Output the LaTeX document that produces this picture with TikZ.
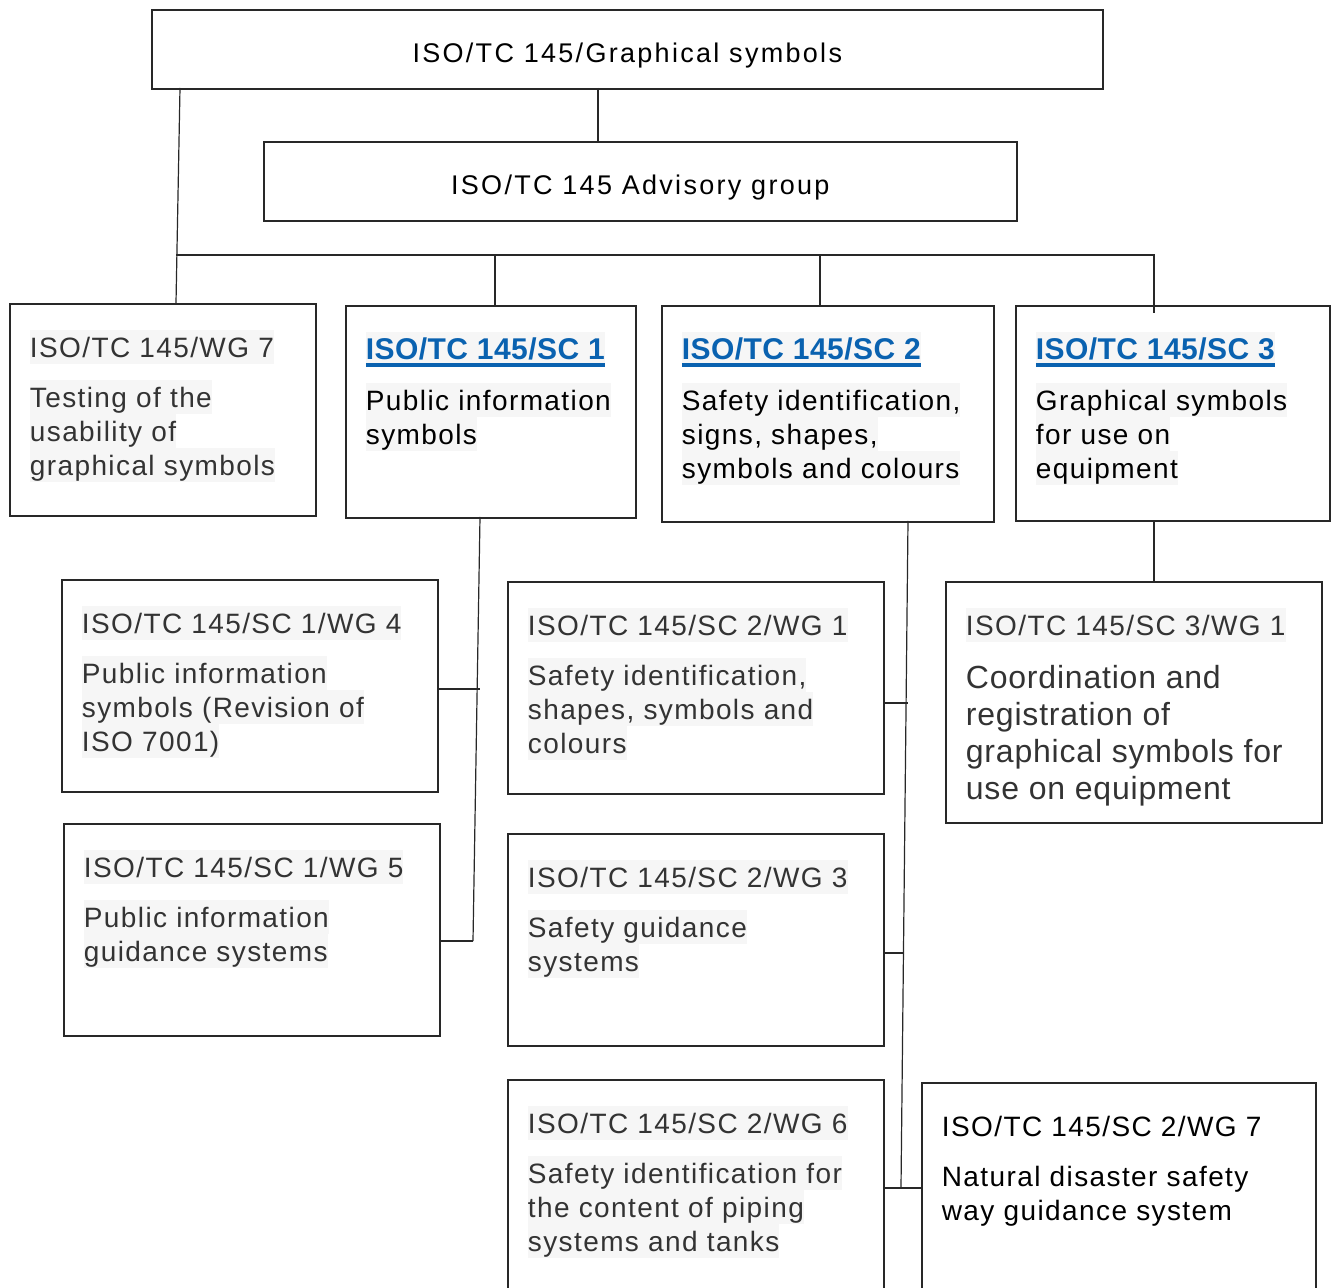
\documentclass[tikz,border=0pt]{standalone}
\usepackage{fontspec}
\setmainfont{Liberation Sans}
\newfontfamily\topfont[LetterSpace=8.5]{Liberation Sans}
\newfontfamily\wgfont[LetterSpace=5]{Liberation Sans}
\newfontfamily\scfont[LetterSpace=1.5]{Liberation Sans}
\newfontfamily\bigfont[LetterSpace=2.5]{Liberation Sans}
\definecolor{hlgray}{RGB}{246,246,246}
\definecolor{tgray}{RGB}{51,51,51}
\definecolor{linkblue}{RGB}{10,98,176}
\definecolor{edge}{RGB}{40,40,40}
\newcommand\hlstrut{\rule[-3.25pt]{0pt}{17pt}}
\newcommand\hl[1]{{\setlength\fboxsep{0pt}\colorbox{hlgray}{\hlstrut#1}}}
\newcommand\lnk[1]{\hl{\scfont\bfseries\fontsize{15}{17}\selectfont\color{linkblue}\setbox0\hbox{#1}\rlap{\rule[-3.4pt]{\wd0}{1.8pt}}\box0}}
\begin{document}
\begin{tikzpicture}[x=0.5pt, y=-0.5pt,
    box/.style 2 args={draw=edge, line width=0.8pt, inner sep=0pt, anchor=north west,
      minimum width=#1*0.5pt, minimum height=#2*0.5pt},
    txt/.style={anchor=north west, inner sep=0pt, align=left, text=tgray,
      font=\wgfont\fontsize{14}{17}\selectfont},
    title/.style={anchor=base, inner sep=0pt, font=\topfont\fontsize{13.5}{16}\selectfont},
    wire/.style={draw=edge, line width=0.6pt}]
\useasboundingbox (0,0) rectangle (1335,1288);

% top level
\node[box={951}{79}] (tc) at (151,9) {};
\node[title] (tct) at ([yshift=-6.6pt]tc.center) {ISO/TC 145/Graphical symbols};
\node[box={753}{79}] (ag) at (263,141) {};
\node[title] (agt) at ([yshift=-6.75pt]ag.center) {ISO/TC 145 Advisory group};

% second row
\node[box={306}{212}] (wg7) at (9,303) {};
\node[box={290}{212}] (sc1) at (345,305) {};
\node[box={332}{216}] (sc2) at (661,305) {};
\node[box={314}{215}] (sc3) at (1015,305) {};

% groups under sc1, sc2, sc3
\node[box={376}{212}] (wg4) at (61,579) {};
\node[box={376}{212}] (wg5) at (63,823) {};
\node[box={376}{212}] (s2w1) at (507,581) {};
\node[box={376}{212}] (s2w3) at (507,833) {};
\node[box={376}{232}] (s2w6) at (507,1079) {};
\node[box={394}{230}] (s2w7) at (921,1082) {};
\node[box={376}{241}] (s3w1) at (945,581) {};

% texts
\node[txt] (wg7t) at ([shift={(20.5,27)}]wg7.north west)
  {\hl{ISO/TC 145/WG 7}\\[7.75pt]\hl{Testing of the}\\\hl{usability of}\\\hl{graphical symbols}};
\node[txt, text=black] (sc1t) at ([shift={(20.5,27)}]sc1.north west)
  {\lnk{ISO/TC 145/SC 1}\\[7pt]\hl{Public information}\\\hl{symbols}};
\node[txt, text=black] (sc2t) at ([shift={(20.5,27)}]sc2.north west)
  {\lnk{ISO/TC 145/SC 2}\\[7pt]\hl{Safety identification,}\\\hl{signs, shapes,}\\\hl{symbols and colours}};
\node[txt, text=black] (sc3t) at ([shift={(20.5,27)}]sc3.north west)
  {\lnk{ISO/TC 145/SC 3}\\[7pt]\hl{Graphical symbols}\\\hl{for use on}\\\hl{equipment}};
\node[txt] (wg4t) at ([shift={(20.5,27)}]wg4.north west)
  {\hl{ISO/TC 145/SC 1/WG 4}\\[7.75pt]\hl{Public information}\\\hl{symbols (Revision of}\\\hl{ISO 7001)}};
\node[txt] (wg5t) at ([shift={(20.5,27)}]wg5.north west)
  {\hl{ISO/TC 145/SC 1/WG 5}\\[7.75pt]\hl{Public information}\\\hl{guidance systems}};
\node[txt] (s2w1t) at ([shift={(20.5,27)}]s2w1.north west)
  {\hl{ISO/TC 145/SC 2/WG 1}\\[7.75pt]\hl{Safety identification,}\\\hl{shapes, symbols and}\\\hl{colours}};
\node[txt] (s2w3t) at ([shift={(20.5,27)}]s2w3.north west)
  {\hl{ISO/TC 145/SC 2/WG 3}\\[7.75pt]\hl{Safety guidance}\\\hl{systems}};
\node[txt] (s2w6t) at ([shift={(20.5,27)}]s2w6.north west)
  {\hl{ISO/TC 145/SC 2/WG 6}\\[7.75pt]\hl{Safety identification for}\\\hl{the content of piping}\\\hl{systems and tanks}};
\node[txt, text=black] (s2w7t) at ([shift={(20.5,27)}]s2w7.north west)
  {\hlstrut ISO/TC 145/SC 2/WG 7\\[8pt]Natural disaster safety\\way guidance system};
\node[txt, font=\bigfont\fontsize{16}{18.5}\selectfont] (s3w1t) at ([shift={(20.5,27)}]s3w1.north west)
  {{\wgfont\fontsize{14}{17}\selectfont\hl{ISO/TC 145/SC 3/WG 1}}\\[8pt]Coordination and\\registration of\\graphical symbols for\\use on equipment};

% connectors
\coordinate (ta) at (598,88);
\coordinate (tl) at (180,88);
\coordinate (bl) at (176,255);
\coordinate (br) at (1154,255);
\coordinate (d1) at (495,255);
\coordinate (d2) at (820,255);
\coordinate (p1) at (480,517);
\coordinate (p4) at (480,689);
\coordinate (p5) at (473,941);
\coordinate (q1) at (908,521);
\coordinate (q3) at (908,703);
\coordinate (q4) at (904,953);
\coordinate (q6) at (901,1188);

\draw[wire] (ta) -- (ta |- ag.north);
\draw[wire] (tl) -- (wg7.north -| bl);
\draw[wire] (bl) -- (br) -- ++(0,58);
\draw[wire] (d1) -- (d1 |- sc1.north);
\draw[wire] (d2) -- (d2 |- sc2.north);
\draw[wire] (p1) -- (p5);
\draw[wire] (wg4.east |- p4) -- (p4);
\draw[wire] (wg5.east |- p5) -- (p5);
\draw[wire] (q1) -- (q6);
\draw[wire] (s2w1.east |- q3) -- (q3);
\draw[wire] (s2w3.east |- q4) -- (q4);
\draw[wire] (s2w6.east |- q6) -- (s2w7.west |- q6);
\draw[wire] (sc3.south -| br) -- (s3w1.north -| br);
\end{tikzpicture}
\end{document}
